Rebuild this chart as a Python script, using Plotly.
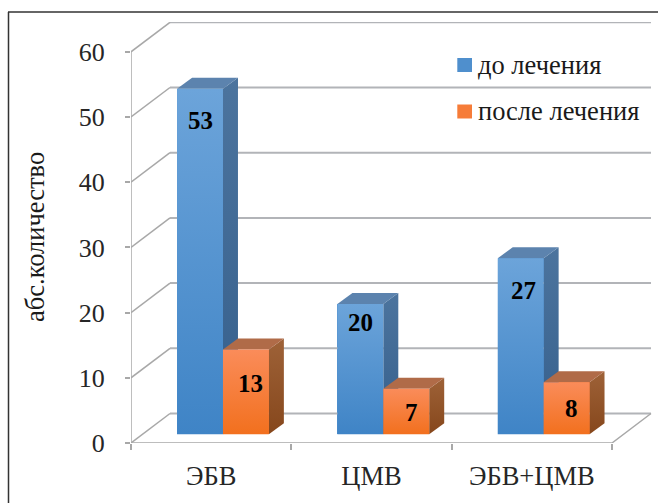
import plotly.graph_objects as go

categories = ["ЭБВ", "ЦМВ", "ЭБВ+ЦМВ"]
before = [53, 20, 27]
after = [13, 7, 8]
series_names = ["до лечения", "после лечения"]
y_ticks = [0, 10, 20, 30, 40, 50, 60]
y_title = "абс.количество"

W, H = 658, 503
L, R, T, B = 131, 652, 22, 443
PX_X = 160.33          # pixels per category
PX_Y = 6.52            # pixels per y unit
x_max = (R - L) / PX_X
y_max = (B - T) / PX_Y
WALL_DX, WALL_DY = 39 / PX_X, 29.5 / PX_Y
FRONT_DX, FRONT_DY = 11.8 / PX_X, 8.7 / PX_Y
DEPTH_DX, DEPTH_DY = 15 / PX_X, 11 / PX_Y
BW = 45.9 / PX_X

GRID = "#B2B4B8"
AXIS = "#A8A8A8"
FONT = "'Liberation Serif', 'Times New Roman', serif"

fig = go.Figure()
n = len(categories)

def seg(xs, ys, color, width):
    fig.add_trace(go.Scatter(x=xs, y=ys, mode="lines", showlegend=False, hoverinfo="skip",
                             cliponaxis=False, line=dict(color=color, width=width)))

# walls
gx, gy, dx, dy = [], [], [], []
for t in y_ticks:
    gx += [WALL_DX, n + WALL_DX, None]
    gy += [t + WALL_DY, t + WALL_DY, None]
    dx += [0, WALL_DX, None]
    dy += [t, t + WALL_DY, None]
seg(gx, gy, GRID, 2)
seg(dx, dy, AXIS, 1.5)
seg([0, 0, None, 0, n, n + WALL_DX], [0, y_ticks[-1], None, 0, 0, WALL_DY], AXIS, 1.5)

# native bars: front faces
centers_b = [i + 0.5 + FRONT_DX - BW / 2 for i in range(n)]
centers_a = [i + 0.5 + FRONT_DX + BW / 2 for i in range(n)]
STYLE = [
    dict(front=("#6CA4DA", "#3F84C6"), side=("#4C749E", "#355F8C"), top="#5C83AE", mid="#4F8FCD"),
    dict(front=("#FA8C5A", "#F2701E"), side=("#9E6238", "#86471C"), top="#B06B48", mid="#F67C38"),
]
for name, xs, vals, st in ((series_names[0], centers_b, before, STYLE[0]),
                           (series_names[1], centers_a, after, STYLE[1])):
    fig.add_trace(go.Bar(name=name, x=xs, y=vals, base=FRONT_DY, width=BW, showlegend=False,
                         marker=dict(color=st["mid"], line=dict(width=0))))

def face(xs, ys, color=None, grad=None):
    kw = dict(fillcolor=color) if color else dict(
        fillgradient=dict(type="vertical", colorscale=[[0, grad[1]], [1, grad[0]]]))
    fig.add_trace(go.Scatter(x=xs, y=ys, mode="lines", fill="toself", line=dict(width=0),
                             showlegend=False, hoverinfo="skip", cliponaxis=False, **kw))

# 3-D faces, back-to-front so the orange bar hides part of the blue side
for xs, vals, st in ((centers_b, before, STYLE[0]), (centers_a, after, STYLE[1])):
    for c, v in zip(xs, vals):
        x0, x1 = c - BW / 2, c + BW / 2
        y0, y1 = FRONT_DY, FRONT_DY + v
        face([x1, x1 + DEPTH_DX, x1 + DEPTH_DX, x1, x1],
             [y0, y0 + DEPTH_DY, y1 + DEPTH_DY, y1, y0], grad=st["side"])
        face([x0, x1, x1 + DEPTH_DX, x0 + DEPTH_DX, x0],
             [y1, y1, y1 + DEPTH_DY, y1 + DEPTH_DY, y1], color=st["top"])
        face([x0, x1, x1, x0, x0], [y0, y0, y1, y1, y0], grad=st["front"])

# value labels
label_drop = [[32, 19, 32], [34, 24, 26]]
label_shift = [[0, 0, 3], [5, 5, 5]]
for s, (xs, vals) in enumerate(((centers_b, before), (centers_a, after))):
    for i, (c, v) in enumerate(zip(xs, vals)):
        fig.add_annotation(x=c, y=FRONT_DY + v, text=f"<b>{v}</b>", showarrow=False,
                           xanchor="center", yanchor="middle",
                           xshift=label_shift[s][i], yshift=-label_drop[s][i],
                           font=dict(family=FONT, size=25, color="#000000"))

fx = lambda p: (p - L) / (R - L)
fy = lambda p: (B - p) / (B - T)

fig.add_annotation(xref="paper", yref="paper", x=fx(35), y=fy(237), xanchor="center", yanchor="middle",
                   text=y_title, textangle=-90, showarrow=False,
                   font=dict(family=FONT, size=26.5, color="#1A1A1A"))

# legend keys and labels
for name, st, yc in ((series_names[0], STYLE[0], 65), (series_names[1], STYLE[1], 111.5)):
    fig.add_shape(type="rect", xref="paper", yref="paper", x0=fx(457.3), x1=fx(472), y0=fy(yc + 7), y1=fy(yc - 7),
                  fillcolor=st["mid"], line=dict(width=0))
    fig.add_annotation(xref="paper", yref="paper", x=fx(475.5), y=fy(yc - 0.5), xanchor="left", yanchor="middle",
                       text=name, showarrow=False, font=dict(family=FONT, size=26.5, color="#1A1A1A"))

# frame
fig.add_shape(type="line", xref="paper", yref="paper", x0=fx(8.5), y0=fy(H), x1=fx(8.5), y1=fy(12),
              line=dict(color="#333333", width=1.5))
fig.add_shape(type="line", xref="paper", yref="paper", x0=fx(8), y0=fy(12), x1=fx(W), y1=fy(12),
              line=dict(color="#333333", width=1.5))

fig.update_layout(
    width=W, height=H, autosize=False, showlegend=False,
    margin=dict(l=L, r=W - R, t=T, b=H - B, pad=0),
    paper_bgcolor="#FFFFFF", plot_bgcolor="#FFFFFF",
    barmode="overlay", bargap=0,
    font=dict(family=FONT, color="#262626", size=22),
    xaxis=dict(range=[0, x_max], showgrid=False, zeroline=False, showline=False,
               tickmode="array", tickvals=[i + 0.5 for i in range(n)], ticktext=categories,
               ticks="", ticklabelstandoff=14, tickfont=dict(family=FONT, size=26.5, color="#262626"),
               minor=dict(tickmode="array", tickvals=list(range(n + 1)), ticks="outside",
                          ticklen=6, tickcolor=AXIS, tickwidth=1.5, showgrid=False)),
    yaxis=dict(range=[0, y_max], showgrid=False, zeroline=False, showline=False,
               tickmode="array", tickvals=y_ticks, ticks="outside", ticklen=5, tickcolor=AXIS,
               tickwidth=1.5, ticklabelstandoff=15, tickfont=dict(family=FONT, size=26, color="#262626")),
)

fig.write_html("out.html", config=dict(displayModeBar=False),
               post_script="document.body.style.margin='0';document.body.style.overflow='hidden';")
